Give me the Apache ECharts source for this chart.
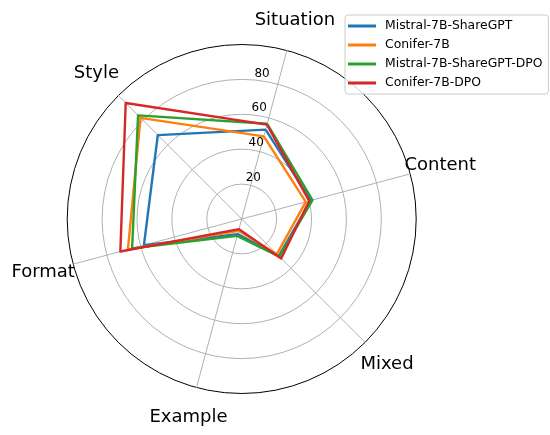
<!DOCTYPE html>
<html>
<head>
<meta charset="utf-8">
<script src="https://cdn.jsdelivr.net/npm/echarts@6/dist/echarts.min.js"></script>
<style>
  html, body { margin: 0; padding: 0; background: #fff; }
  #main { width: 550px; height: 435px; }
</style>
</head>
<body>
<div id="main"></div>
<script>
// axes, counter-clockwise from the top one
const indicators = ['Situation', 'Style', 'Format', 'Example', 'Mixed', 'Content'];
const seriesNames = ['Mistral-7B-ShareGPT', 'Conifer-7B', 'Mistral-7B-ShareGPT-DPO', 'Conifer-7B-DPO'];
const mistralShareGPT = [53, 68, 58, 9, 30, 41];
const conifer = [49, 82, 67.5, 7, 28.5, 38];
const mistralShareGPTDPO = [56.5, 84, 65, 10, 30.5, 42];
const coniferDPO = [56, 94, 72, 6, 32, 40];
const radiusTicks = [20, 40, 60, 80];

const colors = ['#1f77b4', '#ff7f0e', '#2ca02c', '#d62728'];
const font = 'DejaVu Sans';
const allValues = [mistralShareGPT, conifer, mistralShareGPTDPO, coniferDPO];

const chart = echarts.init(document.getElementById('main'));

const option = {
    animation: false,
    textStyle: { fontFamily: font },
    legend: {
        orient: 'vertical',
        left: 345,
        top: 15,
        padding: [4, 6, 4, 3],
        itemGap: 5,
        itemWidth: 28,
        itemHeight: 3,
        icon: 'rect',
        backgroundColor: 'rgba(255,255,255,0.8)',
        borderColor: '#cccccc',
        borderWidth: 1,
        borderRadius: 3,
        textStyle: { fontFamily: font, fontSize: 12.4, color: '#000', lineHeight: 14, padding: [0, 0, 0, 4] },
        data: seriesNames
    },
    radar: [
        {
            center: [241.7, 219],
            radius: 174.5,
            startAngle: 75,
            shape: 'circle',
            splitNumber: 5,
            indicator: indicators.map(n => ({ name: n, min: 0, max: 100 })),
            nameGap: 31,
            axisName: { color: '#000', fontSize: 18, fontFamily: font, align: 'center', verticalAlign: 'middle' },
            axisLine: { lineStyle: { color: '#b0b0b0', width: 1 } },
            axisTick: { show: false },
            axisLabel: { show: false },
            splitLine: {
                lineStyle: { color: ['#b0b0b0', '#b0b0b0', '#b0b0b0', '#b0b0b0', '#b0b0b0', '#000'], width: 1 }
            },
            splitArea: { show: false }
        },
        {
            // only carries the radius tick labels
            center: [250.4, 212.5],
            radius: 174.5,
            startAngle: 85.2,
            shape: 'circle',
            splitNumber: 5,
            indicator: [{ name: '', min: 0, max: 100 }],
            axisName: { show: false },
            axisLine: { show: false },
            axisTick: { show: false },
            splitLine: { show: false },
            splitArea: { show: false },
            axisLabel: {
                show: true,
                margin: 0,
                align: 'center',
                verticalAlign: 'middle',
                fontSize: 12,
                fontFamily: font,
                color: '#000',
                formatter: v => radiusTicks.includes(v) ? String(v) : ''
            }
        }
    ],
    series: [
        {
            type: 'radar',
            radarIndex: 0,
            symbol: 'none',
            data: seriesNames.map((name, i) => ({
                name: name,
                value: allValues[i],
                itemStyle: { color: colors[i] },
                lineStyle: { color: colors[i], width: 2.4 },
                areaStyle: null
            }))
        }
    ]
};

option && chart.setOption(option);
</script>
</body>
</html>
